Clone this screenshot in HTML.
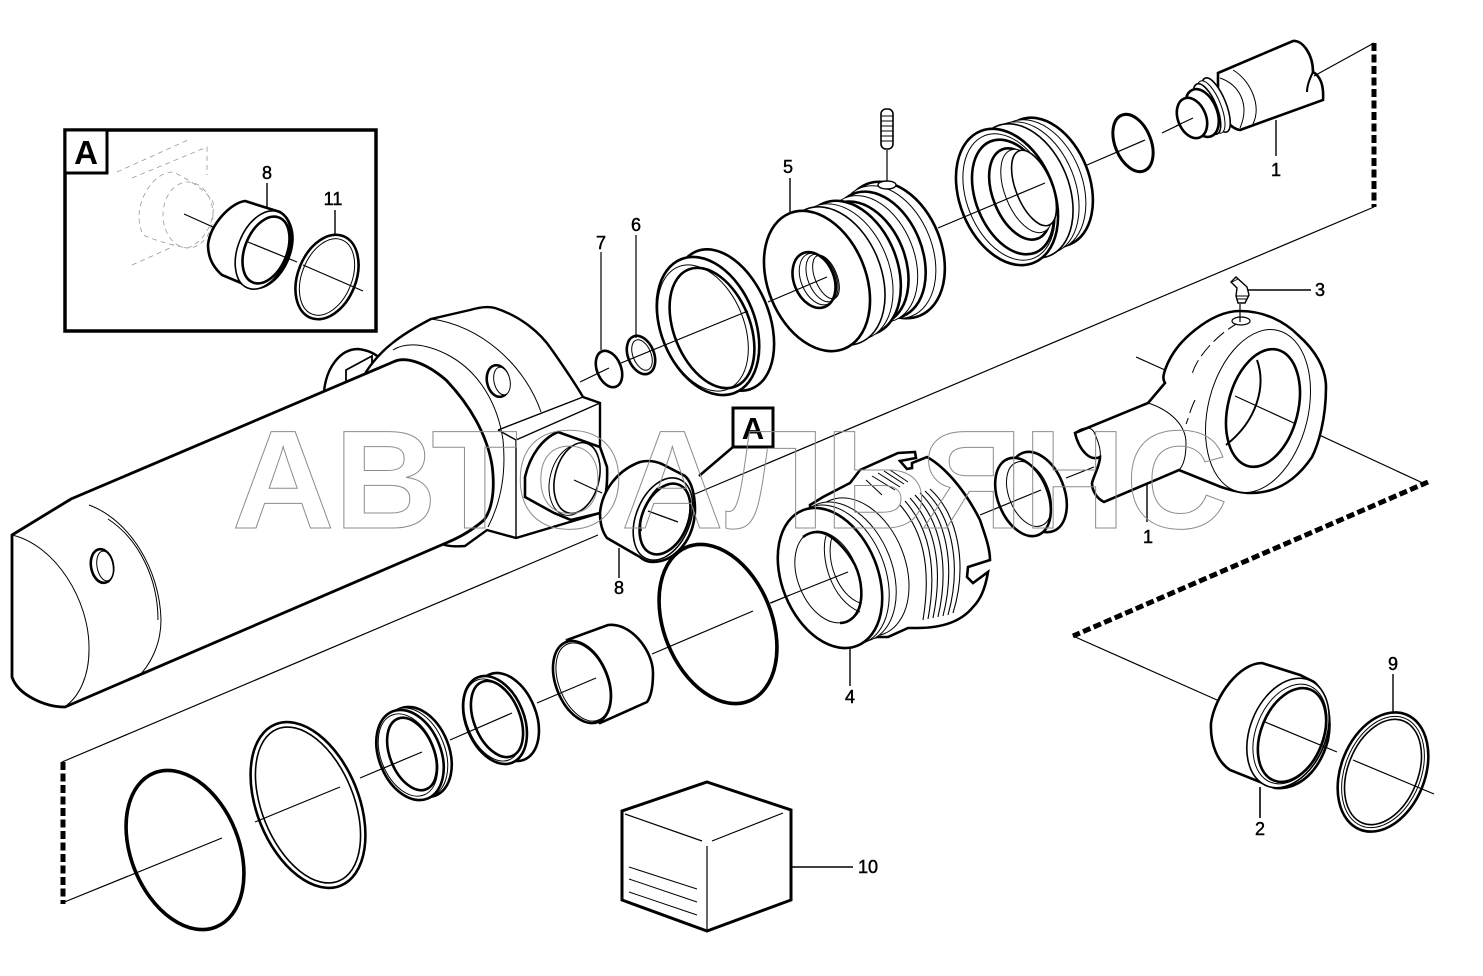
<!DOCTYPE html>
<html><head><meta charset="utf-8"><style>
html,body{margin:0;padding:0;background:#fff}
svg{display:block}
ellipse,path.f,rect.f{fill:#fff;stroke:#000}
.e{transform-box:fill-box;transform-origin:center;transform:rotate(-22deg)}
.r{transform-box:fill-box;transform-origin:center;transform:rotate(22deg)}
.k{stroke-width:2.6}.t{stroke-width:1}.m{stroke-width:1.6}.h{stroke-width:3.6}
ellipse.n{fill:none}
line,path{stroke:#000;stroke-width:1.2}
path{fill:none}
.l{font:18px "Liberation Sans",sans-serif;text-anchor:middle;stroke:#000;stroke-width:.45}
.d{stroke-width:5;stroke-dasharray:8 3.5}
</style></head><body>
<svg width="1483" height="976" viewBox="0 0 1483 976" xmlns="http://www.w3.org/2000/svg">
<rect width="1483" height="976" fill="#fff"/>

<!-- long lines and dashed frames -->
<line x1="62" y1="762" x2="598" y2="535"/><line x1="695" y1="494" x2="1374" y2="207"/>
<line class="d" x1="1374" y1="43" x2="1374" y2="207"/>
<line class="d" x1="63" y1="762" x2="63" y2="904"/>
<line class="d" x1="1428" y1="482" x2="1073" y2="636"/>
<line x1="1425" y1="484" x2="1235" y2="396"/>

<!-- cylinder: rear ear -->
<path class="f" style="stroke-width:2.4" d="M324 392C326 368 340 349 358 349C368 350 376 354 382 360L380 385L330 400Z"/>
<path class="f" style="stroke-width:1.8" d="M346 370L372 356L372 378L346 392Z"/>
<!-- head -->
<path class="f" style="stroke-width:2.4" d="M366 372C380 350 400 335 431 319L470 310C480 307 488 306 495 308C520 316 540 332 552 350C566 370 576 385 583 397L600 403V513L516 538L487 530L465 546C452 547 445 546 440 543L420 420Z"/>
<path d="M431 319C480 325 525 365 541 412" style="stroke-width:1"/>
<path d="M393 350C405 342 425 343 448 355C480 372 498 405 503 440C506 470 502 500 488 527" style="stroke-width:1"/>
<line x1="498" y1="430" x2="583" y2="397" style="stroke-width:1.4"/>
<path d="M498 430L516 440L600 403M516 440V538" style="stroke-width:1.4"/>
<ellipse cx="498" cy="381" rx="11" ry="16" class="e k" style="transform:rotate(-12deg)"/>
<ellipse cx="502" cy="381" rx="8" ry="14" class="e t" style="transform:rotate(-12deg)"/>
<!-- body -->
<path class="f" style="stroke-width:2.8" d="M12 535L71 499L393 362C405 356 425 362 446 380C470 405 487 435 492 465C496 495 490 512 484 520C470 532 458 538 446 543L65 707C45 707 18 695 12 677Z"/>
<path d="M12 535C55 545 90 600 89 650C89 675 80 695 67 705" style="stroke-width:1"/>
<path d="M89 505C130 520 160 570 161 620C161 645 150 665 138 677M108 519C140 540 158 580 158 620" style="stroke-width:1"/>
<ellipse cx="102" cy="566" rx="11" ry="17" class="e k" style="transform:rotate(-10deg)"/>
<ellipse cx="105" cy="566" rx="8" ry="15" class="e t" style="transform:rotate(-10deg)"/>
<!-- stud -->
<path class="f" style="stroke-width:2.6" d="M525 477C530 455 543 438 558 432L600 447L607 467C608 490 604 505 600 513L571 520L554 513L525 497Z"/>
<ellipse cx="573" cy="480" rx="23" ry="36" class="r t" style="transform:rotate(14deg)"/>
<ellipse cx="577" cy="478" rx="22" ry="36" class="r m" style="transform:rotate(14deg)"/>
<line x1="574" y1="480" x2="602" y2="493"/>

<!-- bush 8 -->
<path class="f k" d="M600 513C602 490 618 470 640 462C648 460 655 461 662 464L685 476C695 485 697 510 693 525C688 545 672 562 653 562C648 562 643 560 640 557L607 538C601 530 600 520 600 513Z"/>
<ellipse cx="663" cy="519" rx="27" ry="43" class="r m"/>
<ellipse cx="665" cy="519" rx="23" ry="37" class="r k"/>
<path d="M658 488C646 500 638 520 641 531" style="stroke-width:2"/>
<line x1="648" y1="511" x2="678" y2="522"/>
<line x1="619" y1="548" x2="619" y2="578" style="stroke-width:1.4"/>
<!-- A marker -->
<line x1="733" y1="447" x2="699" y2="476" style="stroke-width:2.5"/>
<rect class="f" x="733" y="408" width="40" height="39" style="stroke-width:3"/>
<text x="753" y="439" text-anchor="middle" style="font:bold 31px 'Liberation Sans',sans-serif">A</text>

<!-- rings 7,6 and seal -->
<ellipse cx="609" cy="369" rx="12" ry="19" class="e k n"/>
<ellipse cx="641" cy="355" rx="13" ry="20" class="e k n"/>
<ellipse cx="642" cy="355" rx="9" ry="16" class="e t n"/>
<ellipse cx="724" cy="320" rx="45" ry="74" class="e k"/>
<ellipse cx="708" cy="326" rx="47" ry="72" class="e k"/>
<ellipse cx="712" cy="328" rx="38" ry="63" class="e k"/>
<ellipse cx="703" cy="328" rx="41" ry="66" class="e t n"/>
<line x1="580" y1="382" x2="609" y2="368"/>
<line x1="621" y1="363" x2="748" y2="311"/>
<line x1="601" y1="252" x2="601" y2="350"/>
<line x1="636" y1="235" x2="636" y2="338"/>

<!-- piston 5 -->
<ellipse cx="893" cy="250" rx="48" ry="71" class="e k"/>
<ellipse cx="886" cy="252" rx="46" ry="69" class="e t"/>
<ellipse cx="878" cy="255" rx="44" ry="66" class="e k"/>
<ellipse cx="870" cy="259" rx="44" ry="66" class="e t"/>
<ellipse cx="862" cy="263" rx="43" ry="64" class="e k"/>
<ellipse cx="850" cy="268" rx="47" ry="70" class="e k"/>
<ellipse cx="842" cy="272" rx="47" ry="71" class="e t"/>
<ellipse cx="833" cy="276" rx="48" ry="72" class="e m"/>
<ellipse cx="817" cy="281" rx="49" ry="73" class="e k"/>
<ellipse cx="814" cy="280" rx="20" ry="29" class="e k"/>
<ellipse cx="818" cy="279" rx="17" ry="27" class="e t n"/>
<ellipse cx="822" cy="278" rx="14" ry="25" class="e t n"/>
<ellipse cx="826" cy="277" rx="11" ry="23" class="e t n"/>
<line x1="827" y1="277" x2="768" y2="302"/>
<line x1="790" y1="178" x2="790" y2="212" style="stroke-width:1.4"/>
<!-- set screw -->
<rect class="f m" x="881" y="109" width="12" height="40" rx="5"/>
<path d="M881 116H893M881 121H893M881 126H893M881 131H893M881 136H893M881 141H893" style="stroke-width:1"/>
<line x1="887" y1="150" x2="887" y2="186"/>
<ellipse cx="887" cy="185" rx="9" ry="4" style="stroke-width:1.4"/>

<!-- gland -->
<ellipse cx="1045" cy="182" rx="44" ry="67" class="e k"/>
<ellipse cx="1037" cy="185" rx="45" ry="68" class="e t"/>
<ellipse cx="1030" cy="188" rx="45" ry="69" class="e t"/>
<ellipse cx="1023" cy="191" rx="46" ry="70" class="e m"/>
<ellipse cx="1007" cy="197" rx="47" ry="71" class="e k"/>
<ellipse cx="1009" cy="197" rx="42" ry="66" class="e t"/>
<ellipse cx="1013" cy="197" rx="37" ry="60" class="e k"/>
<ellipse cx="1020" cy="194" rx="27" ry="48" class="e k"/>
<ellipse cx="1027" cy="191" rx="22" ry="44" class="e t"/>
<ellipse cx="1034" cy="188" rx="18" ry="40" class="e m"/>
<line x1="938" y1="228" x2="1045" y2="183"/>

<!-- o ring -->
<ellipse cx="1133" cy="143" rx="18" ry="30" class="e n" style="stroke-width:3"/>
<line x1="1087" y1="165" x2="1145" y2="140"/><line x1="1162" y1="133" x2="1193" y2="118"/>

<!-- rod 1 -->
<path class="f k" d="M1218 73L1293 41C1303 40 1313 55 1313 72C1320 76 1324 85 1323 100L1240 130C1228 128 1222 115 1218 100Z"/>
<path d="M1313 72C1310 78 1307 85 1307 92" style="stroke-width:2"/>
<path d="M1233 70C1250 80 1262 105 1253 124M1220 78C1240 85 1250 105 1240 128" style="stroke-width:1"/>
<ellipse cx="1216" cy="105" rx="10" ry="29" class="e m"/>
<ellipse cx="1211" cy="107" rx="10" ry="28" class="e t"/>
<ellipse cx="1207" cy="109" rx="10" ry="27" class="e m"/>
<ellipse cx="1202" cy="113" rx="15" ry="25" class="e k"/>
<ellipse cx="1192" cy="118" rx="14" ry="21" class="e k"/>
<line x1="1374" y1="43" x2="1314" y2="76"/>
<line x1="1193" y1="118" x2="1176" y2="126"/>
<line x1="1276" y1="120" x2="1276" y2="156" style="stroke-width:1.4"/>

<!-- eye end -->
<path class="f k" d="M1075 433L1148 403L1165 383C1162 378 1164 374 1165 370C1172 350 1185 338 1195 330C1210 318 1225 311 1240 311C1265 311 1285 322 1298 335C1315 350 1326 368 1326 387C1326 420 1318 445 1312 457C1295 482 1275 493 1251 493C1240 493 1230 490 1221 487L1179 470L1104 502C1096 498 1092 490 1092 483C1094 475 1100 465 1100 457C1090 462 1079 450 1075 433Z"/>
<path d="M1148 403C1170 410 1186 425 1186 443C1186 455 1184 465 1179 470" style="stroke-width:1"/>
<path d="M1075 433C1080 428 1090 425 1094 432C1100 445 1101 452 1100 457" style="stroke-width:1"/>
<path d="M1240 322C1215 335 1195 360 1192 375M1195 400C1190 410 1188 420 1186 424" style="stroke-width:1" stroke-dasharray="14 5"/>
<ellipse cx="1258" cy="411" rx="50" ry="83" class="r t" style="transform:rotate(14deg)"/>
<ellipse cx="1263" cy="408" rx="35" ry="60" class="r k" style="transform:rotate(14deg)"/>
<path d="M1257 360C1266 385 1258 420 1226 445" style="stroke-width:2"/>
<ellipse cx="1241" cy="321" rx="9" ry="4" style="stroke-width:1.2;fill:#fff"/>
<line x1="1235" y1="396" x2="1296" y2="424"/>
<line x1="1136" y1="357" x2="1165" y2="370"/>
<line x1="1147" y1="483" x2="1147" y2="522" style="stroke-width:1.4"/>
<!-- fitting 3 -->
<path class="f" d="M1231 282L1236 277L1247 287L1249 295L1245 303H1238L1236 296L1237 288Z" style="stroke-width:1.4"/>
<path d="M1236 296H1249M1237 299H1247M1232 282L1238 279" style="stroke-width:.9"/>
<line x1="1248" y1="290" x2="1311" y2="290" style="stroke-width:1.4"/>
<line x1="1240" y1="304" x2="1240" y2="322"/>

<!-- ring by eye -->
<ellipse cx="1038" cy="492" rx="26" ry="42" class="e k"/>
<ellipse cx="1023" cy="497" rx="25" ry="41" class="e k"/>
<ellipse cx="1029" cy="494" rx="20" ry="34" class="e t n"/>
<line x1="980" y1="515" x2="1041" y2="490"/>
<line x1="1066" y1="478" x2="1094" y2="467"/>

<!-- part 4 -->
<path class="f k" d="M810 505L823 497L850 483L860 470L898 453L915 452L916 458L900 461L907 469L912 468L912 463L927 457C945 467 965 490 980 520C985 535 990 548 990 560L968 567L967 577L973 583L988 572C985 590 980 600 973 607C965 617 950 628 917 628L908 628L888 637L877 637L863 640L820 620Z"/>
<path d="M900 505C922 530 932 565 923 620M905 501C928 527 938 565 928 619M910 498C934 524 944 565 933 618M915 495C940 521 950 565 938 617M920 493C946 518 956 565 943 616M925 491C952 516 962 565 948 615M930 489C958 514 968 565 953 613" style="stroke-width:1.1"/>
<path d="M866 480L882 495M872 476L895 490M878 473L900 487M884 471L904 484M890 470L908 482" style="stroke-width:1"/>
<ellipse cx="857" cy="567" rx="48" ry="72" class="e t"/>
<ellipse cx="844" cy="572" rx="48" ry="73" class="e t"/>
<ellipse cx="837" cy="575" rx="48" ry="73" class="e t"/>
<ellipse cx="830" cy="578" rx="48" ry="73" class="e k"/>
<ellipse cx="828" cy="577" rx="30" ry="48" class="e t"/>
<path d="M803 537C808 533 813 532 818 532C832 533 847 550 855 565C862 580 864 600 857 613C852 620 846 623 840 623" style="stroke-width:2.6"/>
<path d="M826 536C820 555 830 600 860 612M832 537C825 560 838 595 860 603" style="stroke-width:1"/>
<line x1="770" y1="603" x2="848" y2="572"/>
<line x1="850" y1="648" x2="850" y2="686" style="stroke-width:1.4"/>

<!-- lower axis rings -->
<ellipse cx="718" cy="624" rx="54" ry="83" class="e h n"/>
<path class="f k" d="M567 640L608 625C630 622 653 650 653 673C653 690 650 698 647 702L600 723L570 700Z"/>
<ellipse cx="582" cy="682" rx="26" ry="43" class="e k"/>
<ellipse cx="583" cy="682" rx="24" ry="41" class="e t"/>
<ellipse cx="507" cy="717" rx="29" ry="46" class="e k"/>
<ellipse cx="495" cy="720" rx="29" ry="46" class="e k"/>
<ellipse cx="493" cy="720" rx="26" ry="43" class="e t"/>
<ellipse cx="497" cy="719" rx="23" ry="40" class="e k"/>
<ellipse cx="418" cy="752" rx="31" ry="47" class="e k"/>
<ellipse cx="414" cy="753" rx="31" ry="47" class="e t"/>
<ellipse cx="410" cy="755" rx="31" ry="47" class="e k"/>
<ellipse cx="408" cy="755" rx="27" ry="43" class="e t"/>
<ellipse cx="412" cy="754" rx="22" ry="38" class="e k"/>
<ellipse cx="308" cy="805" rx="51" ry="87" class="e k"/>
<ellipse cx="308" cy="805" rx="46" ry="82" class="e m"/>
<ellipse cx="185" cy="850" rx="54" ry="83" class="e h n"/>
<path d="M62 903L222 838M255 822L340 787M360 778L422 752M450 740L512 713M537 703L596 678M652 654L753 611M771 603L790 595"/>

<!-- bush 2 and ring 9 -->
<line x1="1073" y1="636" x2="1217" y2="700"/>
<path class="f k" d="M1211 723C1215 695 1240 663 1262 663L1300 675L1314 682C1328 695 1332 720 1328 740C1320 770 1300 790 1275 788L1230 770C1218 762 1210 745 1211 723Z"/>
<ellipse cx="1288" cy="733" rx="38" ry="57" class="r m"/>
<ellipse cx="1290" cy="734" rx="34" ry="52" class="r t"/>
<ellipse cx="1292" cy="735" rx="31" ry="49" class="r k"/>
<line x1="1260" y1="787" x2="1260" y2="818" style="stroke-width:1.6"/>
<ellipse cx="1383" cy="772" rx="42" ry="62" class="r k n"/>
<ellipse cx="1383" cy="772" rx="38" ry="58" class="r t n"/>
<ellipse cx="1383" cy="772" rx="35" ry="55" class="r m n"/>
<path d="M1265 722L1337 752M1353 760L1434 794"/>
<line x1="1393" y1="674" x2="1393" y2="712" style="stroke-width:1.4"/>

<!-- box 10 -->
<path class="f" style="stroke-width:3" d="M707 782L791 810V900L707 931L622 900V811Z"/>
<path d="M625 814L702 841M712 841L783 813M707 846V931" style="stroke-width:1.2"/>
<path d="M629 867L697 889M629 879L697 902M629 892L697 915" style="stroke-width:1"/>
<line x1="791" y1="867" x2="853" y2="867" style="stroke-width:1.6"/>

<!-- inset A -->
<rect class="f" x="65" y="130" width="311" height="201" style="stroke-width:3.5"/>
<rect class="f" x="65" y="130" width="42" height="43" style="stroke-width:3"/>
<text x="86" y="164" text-anchor="middle" style="font:bold 33px 'Liberation Sans',sans-serif">A</text>
<path d="M117 172L188 140M132 178L207 147V175M132 265L170 248M139 215C140 195 155 172 173 172C190 180 205 190 213 202C216 225 200 245 187 248C170 245 155 240 143 235C140 228 139 222 139 215" style="stroke:#999;stroke-width:.8" stroke-dasharray="5 4"/>
<ellipse cx="188" cy="215" rx="25" ry="33" style="fill:none;stroke:#999;stroke-width:.8" stroke-dasharray="5 4"/>
<path class="f k" d="M208 245C210 225 230 203 245 201L280 212C290 218 294 232 292 245C288 270 270 290 253 288L222 275C214 268 208 258 208 245Z"/>
<ellipse cx="263" cy="250" rx="25" ry="41" class="r m"/>
<ellipse cx="266" cy="250" rx="21" ry="35" class="r k"/>
<ellipse cx="327" cy="277" rx="29" ry="44" class="r k n"/>
<ellipse cx="327" cy="277" rx="25" ry="40" class="r t n"/>
<path d="M184 214L213 227M248 242L297 262M303 265L363 291"/>
<line x1="267" y1="183" x2="267" y2="207" style="stroke-width:1.4"/>
<line x1="335" y1="210" x2="335" y2="236" style="stroke-width:1.4"/>

<!-- watermark -->
<text x="232" y="528" textLength="996" lengthAdjust="spacingAndGlyphs" style="font:bold 140px 'Liberation Sans','DejaVu Sans',sans-serif;fill:none;stroke:#8c8c8c;stroke-width:1">АВТОАЛЬЯНС</text>

<!-- labels -->
<text class="l" x="267" y="179">8</text>
<text class="l" x="333" y="205">11</text>
<text class="l" x="601" y="249">7</text>
<text class="l" x="636" y="231">6</text>
<text class="l" x="788" y="173">5</text>
<text class="l" x="1276" y="176">1</text>
<text class="l" x="1320" y="296">3</text>
<text class="l" x="1148" y="543">1</text>
<text class="l" x="619" y="594">8</text>
<text class="l" x="850" y="703">4</text>
<text class="l" x="1393" y="670">9</text>
<text class="l" x="1260" y="835">2</text>
<text class="l" x="868" y="873">10</text>
</svg>
</body></html>
